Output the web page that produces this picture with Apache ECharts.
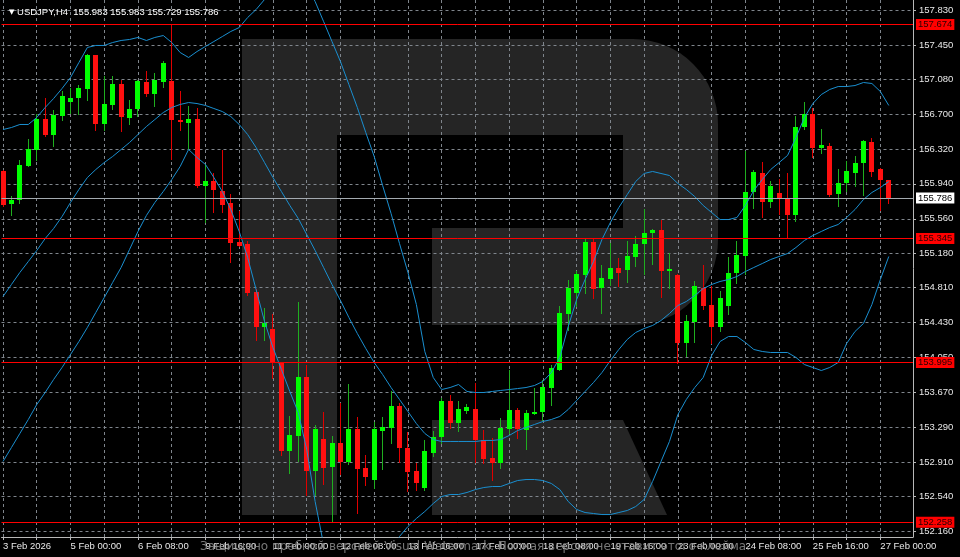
<!DOCTYPE html>
<html><head><meta charset="utf-8">
<script src="https://cdn.jsdelivr.net/npm/echarts@6/dist/echarts.min.js"></script>
<style>html,body{margin:0;padding:0;background:#000}#c{width:960px;height:557px}</style>
</head><body><div id="c"></div>
<script>
// ---- data (USDJPY H4, 3 Feb 16:00 .. 27 Feb 04:00) ----
const open = [156.078,155.723,155.759,156.132,156.306,156.648,156.477,156.676,156.836,156.869,
156.974,157.340,156.586,156.793,157.032,156.659,156.757,157.050,156.923,157.050,
157.057,156.640,156.604,156.651,155.922,155.969,155.860,155.734,155.305,155.288,
154.761,154.380,154.363,153.993,153.031,153.194,153.836,152.821,153.166,152.861,
153.115,152.911,153.275,152.850,152.715,153.249,153.286,153.521,153.068,152.813,
152.633,153.014,153.188,153.575,153.333,153.474,153.492,153.151,152.959,152.905,
153.275,153.477,153.267,153.441,153.455,153.721,153.920,154.519,154.755,154.943,
155.305,154.809,154.907,155.027,155.008,155.142,155.288,155.408,155.433,154.994,
154.943,154.211,154.435,154.809,154.627,154.380,154.609,154.972,155.160,155.849,
156.060,155.740,155.843,155.788,155.596,156.557,156.695,156.325,156.357,155.835,
155.944,156.060,156.162,156.398,156.104,155.983];
const high = [156.095,155.813,156.205,156.423,156.695,156.869,156.749,156.948,156.985,157.021,
157.348,157.345,157.112,157.112,157.068,156.850,157.075,157.166,157.141,157.282,
157.674,156.948,156.785,156.768,156.158,156.053,156.306,155.832,155.642,155.316,
154.798,154.591,154.526,153.993,153.412,154.652,153.974,153.321,153.455,153.194,
153.558,153.764,153.401,152.988,153.351,153.401,153.684,153.561,153.238,152.905,
153.158,153.249,153.612,153.648,153.575,153.550,153.768,153.267,153.177,153.394,
153.912,153.506,153.477,153.721,153.811,153.964,154.616,154.899,154.990,155.345,
155.340,155.052,155.299,155.135,155.316,155.370,155.669,155.451,155.545,155.190,
154.964,154.508,154.881,155.052,154.834,154.772,155.146,155.316,156.295,156.096,
156.176,155.969,155.995,156.053,156.676,156.833,156.768,156.539,156.387,156.104,
156.187,156.241,156.420,156.441,156.115,155.983];
const low = [155.700,155.596,155.737,156.129,156.205,156.460,156.347,156.633,156.706,156.695,
156.850,156.531,156.531,156.757,156.513,156.586,156.676,156.901,156.785,156.996,
156.213,156.531,156.314,155.908,155.523,155.632,155.632,155.088,155.262,154.736,
154.246,154.246,153.830,152.995,152.796,152.922,152.560,152.560,152.669,152.258,
152.788,152.890,152.361,152.658,152.633,152.839,153.115,152.911,152.596,152.614,
152.614,152.977,153.122,153.286,153.249,153.449,152.911,152.905,152.723,152.850,
153.231,153.177,153.057,153.441,153.376,153.539,153.912,154.355,154.609,154.755,
154.700,154.537,154.845,154.826,154.870,155.044,154.964,155.063,154.714,154.809,
153.995,154.072,154.217,154.573,154.211,154.337,154.529,154.863,154.964,155.679,
155.582,155.690,155.617,155.364,155.534,156.539,156.234,156.278,155.810,155.697,
155.860,155.914,155.824,156.031,155.661,155.729];
const close = [155.715,155.759,156.140,156.321,156.648,156.477,156.684,156.901,156.876,156.985,
157.340,156.593,156.814,157.032,156.665,156.760,157.057,156.923,157.068,157.257,
156.633,156.611,156.648,155.922,155.969,155.871,155.715,155.299,155.269,154.755,
154.380,154.428,153.993,153.031,153.205,153.836,152.821,153.275,152.850,153.115,
152.911,153.275,152.839,152.748,153.275,153.297,153.521,153.068,152.803,152.680,
153.031,153.191,153.575,153.333,153.485,153.514,153.151,152.941,152.905,153.286,
153.477,153.275,153.449,153.463,153.732,153.939,154.537,154.809,154.954,155.305,
154.798,154.918,155.027,154.972,155.153,155.288,155.407,155.433,154.990,155.016,
154.211,154.446,154.826,154.616,154.380,154.700,154.972,155.171,155.853,156.067,
155.740,155.914,155.777,155.596,156.557,156.702,156.332,156.368,155.824,155.944,
156.078,156.169,156.404,156.067,155.983,155.786];
const bbUpper = [156.531,156.553,156.586,156.586,156.662,156.771,156.869,156.978,157.097,157.261,
157.424,157.446,157.446,157.478,157.500,157.511,157.533,157.500,157.533,157.554,
157.478,157.369,157.315,157.380,157.435,157.489,157.543,157.598,157.641,157.750,
157.837,157.946,158.077,158.164,158.207,158.185,158.098,157.924,157.707,157.489,
157.271,157.021,156.771,156.499,156.238,155.922,155.618,155.291,154.976,154.627,
154.116,153.833,153.702,153.724,153.757,153.681,153.670,153.670,153.681,153.692,
153.702,153.713,153.724,153.746,153.790,153.887,154.051,154.388,154.682,154.899,
155.095,155.335,155.520,155.683,155.824,155.966,156.053,156.075,156.053,156.031,
155.944,155.879,155.802,155.705,155.628,155.552,155.552,155.574,155.705,155.868,
155.987,156.096,156.172,156.249,156.444,156.662,156.814,156.912,156.967,156.999,
156.999,157.010,157.043,157.032,156.945,156.793];
const bbMiddle = [154.714,154.845,154.976,155.095,155.215,155.345,155.454,155.585,155.737,155.879,
156.009,156.096,156.172,156.238,156.314,156.390,156.477,156.564,156.640,156.716,
156.771,156.804,156.825,156.814,156.793,156.760,156.727,156.673,156.586,156.477,
156.336,156.172,156.009,155.857,155.705,155.563,155.389,155.215,155.030,154.845,
154.671,154.486,154.312,154.149,153.996,153.866,153.724,153.594,153.463,153.332,
153.224,153.158,153.137,153.137,153.137,153.137,153.137,153.148,153.148,153.158,
153.202,153.256,153.289,153.322,153.354,153.376,153.409,153.485,153.583,153.681,
153.779,153.887,154.018,154.138,154.247,154.323,154.366,154.399,154.453,154.529,
154.616,154.660,154.725,154.801,154.845,154.878,154.899,154.932,154.986,155.030,
155.073,155.117,155.150,155.182,155.248,155.324,155.378,155.422,155.465,155.498,
155.574,155.661,155.770,155.846,155.900,155.966];
const bbLower = [152.919,153.071,153.224,153.376,153.539,153.670,153.811,153.942,154.083,154.225,
154.377,154.540,154.703,154.867,155.030,155.226,155.422,155.596,155.737,155.857,
155.987,156.129,156.314,156.227,156.151,156.009,155.857,155.661,155.422,155.139,
154.791,154.442,154.159,153.920,153.681,153.452,153.050,152.484,152.016,151.798,
151.581,151.472,151.439,151.472,151.581,151.744,151.940,152.103,152.212,152.299,
152.375,152.462,152.538,152.560,152.560,152.582,152.614,152.636,152.647,152.647,
152.680,152.712,152.723,152.723,152.712,152.680,152.614,152.484,152.397,152.364,
152.353,152.342,152.342,152.364,152.386,152.429,152.506,152.701,152.919,153.137,
153.430,153.594,153.724,153.833,154.072,154.225,154.279,154.279,154.214,154.138,
154.116,154.105,154.105,154.105,154.051,153.974,153.942,153.909,153.942,153.996,
154.203,154.334,154.421,154.627,154.899,155.150];
const yTicks = [152.160,152.540,152.910,153.290,153.670,154.050,154.430,154.810,155.180,155.560,155.940,156.320,156.700,157.080,157.450,157.830];
const xTickBars = [0,8,16,24,32,40,48,56,64,72,80,88,96,104];
const xTickLabels = ['3 Feb 2026','5 Feb 00:00','6 Feb 08:00','9 Feb 16:00','11 Feb 00:00','12 Feb 08:00','13 Feb 16:00','17 Feb 00:00','18 Feb 08:00','19 Feb 16:00','23 Feb 00:00','24 Feb 08:00','25 Feb 16:00','27 Feb 00:00'];
const gridBars = [0,4,8,12,16,20,24,28,32,36,40,44,48,52,56,60,64,68,72,76,80,84,88,92,96,100,104];
const levels = [157.674, 155.345, 153.995, 152.258];
const bidPrice = 155.786;
const titleText = 'USDJPY,H4  155.983 155.983 155.729 155.786';
const watermarkText = 'Защищено пробной версией Visual Watermark. Полная версия не ставит этого клейма.';

// ---- chart ----
const FONT = '"Liberation Sans", Arial, sans-serif';
const chart = echarts.init(document.getElementById('c'), null, {renderer: 'canvas', width: 960, height: 557});
const candleData = open.map((o, i) => [i, o, close[i], low[i], high[i]]);
const toXY = arr => arr.map((v, i) => [i, v]);

function renderCandle(params, api) {
  const i = api.value(0), o = api.value(1), c = api.value(2), l = api.value(3), h = api.value(4);
  const pO = api.coord([i, o]), pC = api.coord([i, c]), pL = api.coord([i, l]), pH = api.coord([i, h]);
  const up = c >= o;
  const cx = Math.round(pO[0] - 0.5);
  const bw = Math.max(3, Math.round(api.size([1, 0])[0] * 0.6));
  const top = Math.round(Math.min(pO[1], pC[1]));
  const bot = Math.round(Math.max(pO[1], pC[1]));
  return {
    type: 'group',
    children: [
      {type: 'line', shape: {x1: cx + 0.5, y1: Math.round(pH[1]), x2: cx + 0.5, y2: Math.round(pL[1]) + 1},
        style: {stroke: up ? '#1fae1f' : '#e00000', lineWidth: 1}},
      {type: 'rect', shape: {x: cx - Math.floor(bw / 2), y: top, width: bw, height: Math.max(1, bot - top)},
        style: {fill: up ? '#00ff00' : '#ff1010'}}
    ]
  };
}

const gridColor = '#7f858c';
const textColor = '#e8e8e8';

const levelLines = levels.map(v => ({
  yAxis: v,
  lineStyle: {color: '#ff0000', width: 1, type: 'solid'},
  label: {backgroundColor: '#ff0000', color: '#2a0000', formatter: v.toFixed(3)}
}));
levelLines.push({
  yAxis: bidPrice,
  lineStyle: {color: '#a4aab0', width: 1, type: 'solid'},
  label: {backgroundColor: '#ffffff', color: '#000000', formatter: bidPrice.toFixed(3)}
});

const option = {
  backgroundColor: '#000000',
  animation: false,
  title: {
    text: '{a|▼} ' + titleText,
    left: 4, top: 2,
    textStyle: {color: '#ffffff', fontSize: 9.5, fontWeight: 'normal', fontFamily: FONT,
      rich: {a: {fontSize: 7, color: '#ffffff', fontFamily: '"DejaVu Sans"'}}}
  },
  grid: {left: 0, right: 47, top: 0, bottom: 20},
  xAxis: {
    type: 'value', min: -0.1775, max: 107.87,
    axisLine: {show: true, onZero: false, lineStyle: {color: '#b8b8b8'}},
    axisTick: {show: true, customValues: gridBars, length: 3, lineStyle: {color: '#b8b8b8'}},
    axisLabel: {
      customValues: xTickBars,
      formatter: v => xTickLabels[xTickBars.indexOf(Math.round(v))] || '',
      align: 'left', margin: 4, color: textColor, fontSize: 9.5, fontFamily: FONT
    },
    splitLine: {show: true, lineStyle: {color: gridColor, type: [3, 3], width: 1}}
  },
  yAxis: {
    type: 'value', position: 'right', min: 152.0976, max: 157.9406,
    axisLine: {show: true, onZero: false, lineStyle: {color: '#b8b8b8'}},
    axisTick: {show: true, customValues: yTicks, length: 3, lineStyle: {color: '#b8b8b8'}},
    axisLabel: {
      customValues: yTicks,
      formatter: v => Number(v).toFixed(3),
      margin: 6, color: textColor, fontSize: 9.5, fontFamily: FONT
    },
    splitLine: {show: true, lineStyle: {color: gridColor, type: [3, 3], width: 1}}
  },
  graphic: [
    {type: 'rect', z: -5, shape: {x: 242, y: 39, width: 95, height: 476}, style: {fill: '#252525'}},
    {type: 'rect', z: -5, shape: {x: 337, y: 39, width: 381, height: 286, r: [0, 85, 85, 0]}, style: {fill: '#252525'}},
    {type: 'rect', z: -4, shape: {x: 337, y: 135, width: 286, height: 93}, style: {fill: '#000000'}},
    {type: 'rect', z: -4, shape: {x: 337, y: 228, width: 95, height: 97}, style: {fill: '#000000'}},
    {type: 'polygon', z: -5, shape: {points: [[432, 420], [623, 420], [667, 515], [432, 515]]}, style: {fill: '#252525'}},
    {type: 'text', z: 50, x: 475, y: 547,
      style: {text: watermarkText, fill: 'rgba(140,140,140,0.85)', fontSize: 12, fontFamily: '"DejaVu Sans"', align: 'center', verticalAlign: 'middle'}}
  ],
  series: [
    {
      type: 'custom', name: 'USDJPY', z: 3, clip: true,
      renderItem: renderCandle,
      encode: {x: 0, y: [1, 2, 3, 4]},
      data: candleData
    },
    {type: 'line', name: 'BB upper', z: 4, data: toXY(bbUpper), symbol: 'none', clip: true,
      lineStyle: {color: '#1a8fd0', width: 1}},
    {type: 'line', name: 'BB middle', z: 4, data: toXY(bbMiddle), symbol: 'none', clip: true,
      lineStyle: {color: '#1a8fd0', width: 1},
      markLine: {
        silent: true, symbol: ['none', 'none'], animation: false, precision: 3,
        label: {show: true, position: 'end', distance: 3,
          fontSize: 9.5, fontFamily: FONT, padding: [1, 2, 0, 2]},
        emphasis: {disabled: true},
        data: levelLines
      }},
    {type: 'line', name: 'BB lower', z: 4, data: toXY(bbLower), symbol: 'none', clip: true,
      lineStyle: {color: '#1a8fd0', width: 1}}
  ]
};
chart.setOption(option);
</script>
</body></html>
